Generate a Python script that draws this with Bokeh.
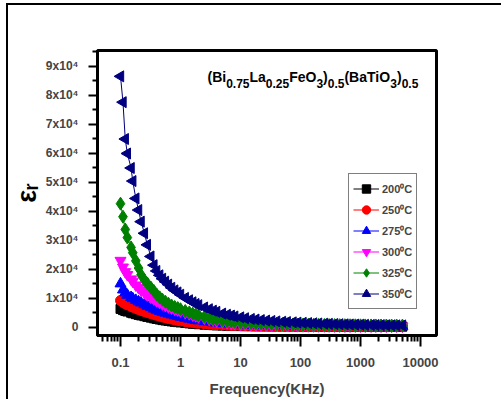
import math
from bokeh.plotting import figure
from bokeh.models import Range1d, FixedTicker, Label, Title
from bokeh.embed import file_html
from bokeh.resources import INLINE

# ---------------- data ----------------
freq = [0.1, 0.11, 0.12, 0.13, 0.15, 0.16, 0.18, 0.2, 0.22, 0.25,
        0.28, 0.32, 0.36, 0.4, 0.45, 0.5, 0.56, 0.63, 0.71, 0.8,
        0.9, 1.0, 1.2, 1.4, 1.6, 1.8, 2, 2.5, 3, 3.5,
        4, 5, 6, 7, 8, 10, 12, 15, 18, 22,
        27, 33, 40, 50, 60, 75, 90, 110, 135, 165,
        200, 250, 300, 370, 450, 550, 670, 820, 1000, 1200,
        1500, 1800, 2200, 2700, 3300, 4000, 5000]

t200 = [6400, 6000, 5700, 5500, 5100, 4900, 4600, 4350, 4150, 3900,
        3650, 3400, 3150, 2950, 2750, 2550, 2400, 2250, 2100, 1950,
        1850, 1750, 1550, 1420, 1300, 1210, 1130, 980, 880, 800,
        740, 660, 600, 560, 530, 490, 460, 435, 415, 400,
        388, 378, 370, 362, 356, 350, 346, 342, 338, 335,
        332, 329, 326, 324, 322, 320, 318, 316, 314, 312,
        310, 308, 306, 304, 302, 300, 298]

t250 = [9300, 8700, 8200, 7800, 7300, 7000, 6600, 6200, 5900, 5500,
        5200, 4800, 4500, 4200, 3900, 3600, 3400, 3100, 2900, 2650,
        2450, 2300, 2050, 1850, 1700, 1570, 1460, 1250, 1120, 1020,
        950, 850, 780, 730, 690, 640, 600, 570, 545, 525,
        505, 490, 480, 470, 460, 452, 445, 440, 435, 430,
        426, 422, 418, 415, 412, 410, 408, 406, 404, 402,
        400, 398, 396, 394, 392, 390, 388]

t275 = [15100, 13000, 12000, 11200, 10400, 10000, 9400, 8900, 8500, 7900,
        7400, 6900, 6400, 6000, 5600, 5300, 5000, 4700, 4400, 4100,
        3850, 3600, 3250, 2950, 2700, 2500, 2350, 2050, 1850, 1700,
        1580, 1400, 1270, 1170, 1100, 990, 920, 850, 800, 760,
        720, 690, 665, 640, 620, 600, 585, 570, 560, 550,
        540, 530, 520, 515, 510, 505, 500, 495, 490, 485,
        480, 475, 470, 465, 460, 455, 450]

t300 = [23100, 20800, 19200, 18200, 16700, 15900, 14600, 13700, 12900, 12000,
        11200, 10400, 9800, 9200, 8600, 8100, 7600, 7100, 6700, 6300,
        6000, 5700, 5100, 4700, 4300, 4000, 3700, 3200, 2800, 2500,
        2250, 1900, 1650, 1450, 1300, 1150, 1050, 950, 880, 820,
        770, 730, 690, 660, 630, 610, 590, 570, 555, 540,
        530, 520, 510, 500, 490, 485, 480, 475, 470, 465,
        460, 455, 450, 445, 440, 435, 430]

t325 = [42700, 38200, 33800, 31000, 27600, 25800, 23000, 20500, 18200, 16400,
        15200, 13800, 12600, 11400, 10400, 9600, 8900, 8200, 7600, 7100,
        6700, 6300, 5700, 5200, 4800, 4500, 4200, 3700, 3300, 3000,
        2800, 2500, 2250, 2100, 1950, 1800, 1680, 1570, 1480, 1400,
        1330, 1270, 1210, 1160, 1110, 1060, 1020, 990, 960, 930,
        900, 870, 850, 830, 810, 790, 770, 750, 740, 720,
        710, 700, 690, 680, 670, 660, 650]

t350 = [86600, 77700, 65000, 60000, 55000, 50500, 44500, 40500, 36500, 32500,
        28500, 24500, 21500, 19500, 18000, 16800, 15800, 14800, 13700, 12800,
        12100, 11300, 10200, 9400, 8700, 8100, 7700, 6900, 6300, 5800,
        5400, 4800, 4400, 4100, 3800, 3500, 3200, 2950, 2750, 2550,
        2400, 2250, 2100, 1980, 1880, 1770, 1680, 1600, 1520, 1450,
        1380, 1310, 1250, 1190, 1140, 1090, 1040, 1000, 960, 920,
        880, 850, 820, 790, 760, 740, 720]

series_labels = ["200\u2070C", "250\u2070C", "275\u2070C", "300\u2070C", "325\u2070C", "350\u2070C"]
series_values = [t200, t250, t275, t300, t325, t350]
series_colors = ["#000000", "#FF0000", "#0000FF", "#FF00FF", "#008000", "#000080"]
series_markers = ["square", "circle", "triangle", "inverted_triangle", "diamond", "triangle"]
series_sizes = [9, 10, 11, 11, 13, 11]
series_angles = [0, 0, 0, 0, 0, math.pi / 2]

x_major = [0.1, 1, 10, 100, 1000, 10000]
x_labels = ["0.1", "1", "10", "100", "1000", "10000"]
y_major = [0, 10000, 20000, 30000, 40000, 50000, 60000, 70000, 80000, 90000]
y_labels = ["0", "1x10\u2074", "2x10\u2074", "3x10\u2074", "4x10\u2074", "5x10\u2074",
            "6x10\u2074", "7x10\u2074", "8x10\u2074", "9x10\u2074"]
y_title = "\u03b5\u1d63"
x_title = "Frequency(KHz)"

title_parts = [("(Bi", 0), ("0.75", 1), ("La", 0), ("0.25", 1), ("FeO", 0), ("3", 1),
               (")", 0), ("0.5", 1), ("(BaTiO", 0), ("3", 1), (")", 0), ("0.5", 1)]

FONT = "Liberation Sans"

# ---------------- figure ----------------
x0 = 10 ** (-1 - 23 / 60)
x1 = 10 ** (-1 + 316 / 60)
y0 = -2759
y1 = 95517

p = figure(width=495, height=396, x_axis_type="log",
           x_range=Range1d(x0, x1), y_range=Range1d(y0, y1),
           output_backend="svg", toolbar_location=None,
           min_border_left=89, min_border_right=67,
           min_border_top=45, min_border_bottom=66)
p.styles = {"margin-left": "6px", "margin-top": "3px",
            "border-left": "2px solid black", "border-top": "2px solid black"}
p.background_fill_color = "white"
p.border_fill_color = "white"
p.outline_line_color = "black"
p.outline_line_width = 3
p.xgrid.visible = False
p.ygrid.visible = False

for lab, ys, col, mk, sz, ang in zip(series_labels, series_values, series_colors,
                                      series_markers, series_sizes, series_angles):
    p.line(freq, ys, line_color=col, line_width=1, legend_label=lab)
    p.scatter(freq, ys, marker=mk, size=sz, angle=ang, fill_color=col,
              line_color=col, legend_label=lab)

# x axis
x_minor = []
for d in [0.01, 0.1, 1, 10, 100, 1000, 10000]:
    for k in range(2, 10):
        x_minor.append(d * k)
xa = p.xaxis[0]
xa.ticker = FixedTicker(ticks=x_major, minor_ticks=x_minor)
xa.major_label_overrides = {v: s for v, s in zip(x_major, x_labels)}
xa.axis_label = x_title
xa.axis_label_text_font = FONT
xa.axis_label_text_font_style = "bold"
xa.axis_label_text_font_size = "15px"
xa.axis_label_standoff = 10
xa.major_label_text_font = FONT
xa.major_label_text_font_style = "bold"
xa.major_label_text_font_size = "13px"
xa.major_label_standoff = 11
xa.major_tick_out = 11
xa.major_tick_in = 0
xa.minor_tick_out = 6
xa.minor_tick_in = 0
xa.major_tick_line_width = 2
xa.minor_tick_line_width = 2
xa.axis_line_width = 3

# y axis
y_minor = [v + 5000 for v in [-10000] + y_major]
ya = p.yaxis[0]
ya.ticker = FixedTicker(ticks=y_major, minor_ticks=y_minor)
ya.major_label_overrides = {v: s for v, s in zip(y_major, y_labels)}
ya.major_label_text_font = FONT
ya.major_label_text_font_style = "bold"
ya.major_label_text_font_size = "12px"
ya.major_label_standoff = 10
ya.major_tick_out = 9
ya.major_tick_in = 0
ya.minor_tick_out = 5
ya.minor_tick_in = 0
ya.major_tick_line_width = 2
ya.minor_tick_line_width = 2
ya.axis_line_width = 3

# y axis title (epsilon with subscript r), as a side title
p.add_layout(Title(text=y_title, align="center", offset=12, standoff=2,
                   text_font=FONT, text_font_style="bold", text_font_size="27px",
                   text_color="black"), "left")

# compound title with subscripts
W = {"(": 333, ")": 333, "B": 722, "i": 278, "L": 611, "a": 556, "F": 611,
     "e": 556, "O": 778, "T": 611, ".": 278}
for dch in "0123456789":
    W[dch] = 556
cx = 110.0
for txt, sub in title_parts:
    fs = 12 if sub else 14
    p.add_layout(Label(x=x0, y=84030 if sub else 86310, x_offset=cx, text=txt,
                       text_align="left", text_baseline="alphabetic",
                       text_font=FONT, text_font_style="bold",
                       text_font_size=f"{fs}px", text_color="black"))
    cx += sum(W[c] for c in txt) * fs / 1000.0

# legend
lg = p.legend[0]
lg.location = (251, 26)
lg.padding = 4
lg.margin = 0
lg.spacing = 0
lg.glyph_width = 26
lg.glyph_height = 21
lg.label_height = 21
lg.label_standoff = 3
lg.label_text_font = FONT
lg.label_text_font_style = "bold"
lg.label_text_font_size = "11px"
lg.border_line_color = "black"
lg.border_line_width = 1
lg.background_fill_color = "white"
lg.background_fill_alpha = 1.0

open("out.html", "w").write(file_html(p, INLINE))
